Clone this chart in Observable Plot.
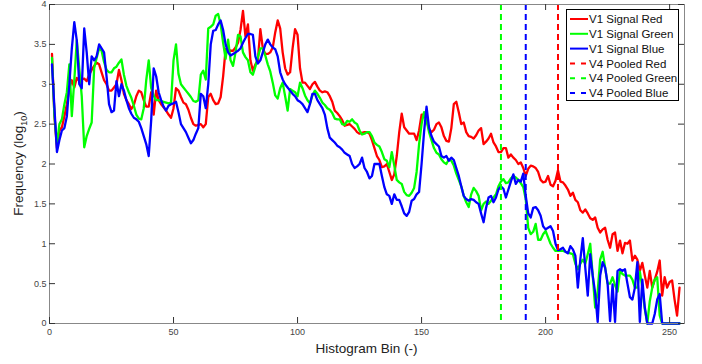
<!DOCTYPE html>
<html><head><meta charset="utf-8">
<script src="https://cdn.jsdelivr.net/npm/d3@7"></script>
<script src="https://cdn.jsdelivr.net/npm/@observablehq/plot@0.6"></script>
<style>
body{margin:0;background:#fff;}
#wrap{position:relative;width:702px;height:364px;font-family:"Liberation Sans",Arial,Helvetica,sans-serif;}
#legend{position:absolute;left:566px;top:9px;}
</style></head>
<body><div id="wrap"></div>
<script>
const bins = d3.range(1, 255);
const red = [3.38,2.6,2.2,2.42,2.46,2.6,2.75,2.95,3.05,2.96,
3.08,3.04,3.06,3.07,3.04,3.12,3.18,3.23,3.27,3.25,
3.15,3.05,3.0,2.92,2.92,2.96,3.0,3.18,3.05,2.88,
2.8,2.75,2.69,2.74,2.85,2.92,2.9,2.8,2.72,2.72,
2.9,2.62,2.92,2.8,2.75,2.71,2.67,2.62,2.58,2.7,
2.95,2.92,2.84,2.77,2.75,2.68,2.58,2.5,2.48,2.49,
2.5,2.46,2.5,2.84,2.88,2.8,2.75,2.76,2.84,3.1,
3.44,3.44,3.42,3.42,3.46,3.52,3.68,3.92,3.6,3.75,
3.3,3.17,3.25,3.3,3.69,3.45,3.38,3.38,3.4,3.46,
3.65,3.8,3.7,3.4,3.2,3.12,3.15,3.45,3.69,3.62,
3.2,3.02,3.02,2.98,2.94,3.0,3.03,2.97,2.92,2.9,
2.91,2.9,2.85,2.78,2.67,2.64,2.6,2.55,2.48,2.49,
2.5,2.47,2.44,2.4,2.38,2.39,2.4,2.4,2.38,2.3,
2.2,2.1,2.05,1.96,1.97,2.0,1.9,1.8,1.87,2.1,
2.4,2.63,2.46,2.42,2.38,2.38,2.38,2.3,2.42,2.62,
2.62,2.55,2.44,2.4,2.43,2.5,2.52,2.46,2.35,2.29,
2.28,2.45,2.75,2.78,2.65,2.5,2.52,2.4,2.35,2.34,
2.32,2.36,2.42,2.45,2.25,2.28,2.32,2.38,2.27,2.22,
2.15,2.15,2.2,2.2,2.08,2.12,2.08,2.05,2.0,2.02,
1.95,1.85,1.94,1.98,1.97,1.95,1.9,1.8,1.77,1.78,
1.85,1.74,1.72,1.79,1.92,1.78,1.77,1.73,1.68,1.6,
1.64,1.55,1.52,1.42,1.39,1.43,1.38,1.32,1.3,1.33,
1.2,1.14,1.18,1.2,1.05,0.95,1.12,1.14,0.91,1.04,
0.88,1.01,1.0,1.04,0.79,0.85,0.8,0.66,0.76,0.6,
0.45,0.66,0.45,0.55,0.65,0.79,0.35,0.58,0.45,0.52,
0.54,0.3,0.1,0.45];
const green = [3.33,2.6,2.25,2.5,2.56,2.75,2.9,3.25,2.6,3.05,
3.55,3.2,2.85,2.21,2.35,2.44,2.52,3.2,3.33,3.45,
3.42,3.28,3.18,3.15,3.15,3.2,3.22,3.27,3.31,3.12,
2.98,2.9,2.83,2.73,2.62,2.57,2.56,2.7,3.05,3.3,
2.95,2.86,2.8,2.8,2.79,2.78,2.77,2.76,2.77,3.3,
3.5,3.13,3.0,2.96,2.92,2.88,2.84,2.79,2.78,2.8,
3.12,3.17,3.06,3.7,3.72,3.75,3.86,3.88,3.75,3.52,
3.32,3.56,3.3,3.23,3.4,3.62,3.6,3.4,3.34,3.3,
3.15,3.12,3.22,3.34,3.45,3.45,3.36,3.25,3.16,3.02,
2.86,2.82,2.95,3.02,2.85,2.67,2.94,2.92,2.9,2.85,
3.02,2.95,2.86,2.8,2.76,2.86,2.92,2.88,2.83,2.77,
2.74,2.7,2.68,2.64,2.57,2.56,2.56,2.5,2.49,2.54,
2.53,2.56,2.52,2.5,2.42,2.37,2.38,2.4,2.4,2.35,
2.27,2.24,2.22,2.15,2.06,2.04,1.96,2.15,1.98,1.8,
1.77,1.75,1.65,1.61,1.6,1.64,1.7,1.9,2.25,2.5,
2.65,2.55,2.4,2.3,2.2,2.14,2.12,2.06,2.02,2.0,
2.06,2.04,1.98,1.88,1.8,1.72,1.6,1.52,1.46,1.62,
1.7,1.66,1.6,1.42,1.5,1.53,1.5,1.54,1.58,1.62,
1.72,1.78,1.81,1.76,1.77,1.82,1.85,1.83,1.8,1.76,
1.71,1.56,1.2,1.12,1.15,1.25,1.05,1.05,1.12,1.16,
1.08,1.0,0.95,0.91,0.91,0.91,0.91,0.9,0.89,0.88,
0.87,0.75,0.68,0.75,0.8,0.75,0.87,1.0,0.6,0.2,
0.4,0.8,0.9,0.7,0.5,0.5,0.58,0.48,0.4,0.66,
0.62,0.6,0.6,0.6,0.55,0.45,0.45,0.65,0.45,0.18,
0.0,0.28,0.45,0.55,0.58,0.1,0,0,0,0,
0,0,0,0];
const blue = [3.25,2.7,2.15,2.3,2.42,2.45,2.6,3.0,3.45,3.78,
3.55,3.0,2.95,3.7,3.4,3.0,3.35,3.3,3.35,3.5,
3.45,3.4,3.1,2.75,2.65,2.67,3.04,2.85,3.0,2.92,
2.8,2.7,2.63,2.58,2.56,2.53,2.45,2.35,2.25,2.1,
2.55,3.2,3.1,2.9,2.8,2.72,2.67,2.73,2.75,2.76,
2.78,2.65,2.5,2.45,2.4,2.33,2.26,2.3,2.38,2.45,
2.88,2.85,2.7,3.0,3.5,3.67,3.68,3.75,3.8,3.68,
3.5,3.4,3.36,3.38,3.4,3.42,3.45,3.52,3.58,3.63,
3.63,3.62,3.35,3.26,3.3,3.4,3.5,3.56,3.5,3.46,
3.44,3.35,3.15,3.06,3.0,2.96,2.92,2.88,2.85,2.8,
2.78,2.75,2.7,2.65,2.75,2.88,2.88,2.8,2.75,2.7,
2.62,2.45,2.33,2.3,2.27,2.23,2.21,2.18,2.14,2.12,
2.1,2.0,1.95,1.97,2.0,2.08,1.95,1.9,1.82,1.85,
2.0,2.0,2.0,1.85,1.71,1.62,1.6,1.5,1.62,1.55,
1.55,1.47,1.38,1.35,1.4,1.54,1.56,1.62,1.65,2.0,
2.4,2.72,2.46,2.35,2.28,2.25,2.22,2.1,2.08,2.1,
2.04,2.08,2.05,1.95,1.85,1.72,1.6,1.56,1.54,1.56,
1.55,1.52,1.5,1.38,1.27,1.45,1.58,1.6,1.52,1.58,
1.68,1.72,1.69,1.58,1.68,1.78,1.87,1.75,1.8,1.78,
1.88,1.6,1.38,1.33,1.45,1.46,1.42,1.35,1.22,1.18,
1.2,1.22,1.16,1.0,0.92,0.93,0.95,0.9,0.88,0.97,
0.93,0.85,0.45,0.8,1.07,0.7,0.35,0.87,0.6,0.38,
0.02,0.6,0.77,0.7,0.5,0.03,0.49,0.02,0.66,0.68,
0.66,0.68,0.5,0.33,0.3,0.45,0.77,0.02,0.55,0.2,
0,0,0,0.12,0.3,0.37,0,0,0,0,
0,0,0,0];

const signalNames = ["V1 Signal Red", "V1 Signal Green", "V1 Signal Blue"];
const pooledNames = ["V4 Pooled Red", "V4 Pooled Green", "V4 Pooled Blue"];
const pooledBins = [205, 182, 192];
const colors = ["#ff0000", "#00ff00", "#0000ff"];
const xTicks = [0, 50, 100, 150, 200, 250];
const yTicks = [0, 0.5, 1, 1.5, 2, 2.5, 3, 3.5, 4];

const W = 702, H = 364, mL = 49, mR = 18, mT = 4, mB = 41;
const innerW = W - mL - mR, innerH = H - mT - mB;

const rows = [];
[red, green, blue].forEach((vals, s) => vals.forEach((v, i) => rows.push({bin: bins[i], value: v, series: signalNames[s]})));
const pooled = pooledBins.map((b, i) => ({bin: b, series: pooledNames[i], color: colors[i]}));

const chart = Plot.plot({
  width: W, height: H,
  marginLeft: mL, marginRight: mR, marginTop: mT, marginBottom: mB,
  style: {fontFamily: '"Liberation Sans", Arial, Helvetica, sans-serif', fontSize: "9px", background: "#fff"},
  x: {domain: [0, 256]},
  y: {domain: [0, 4]},
  color: {domain: signalNames, range: colors},
  marks: [
    Plot.axisX(xTicks, {tickSize: 0, tickPadding: 5, fontSize: 9, fill: "#444", label: null, tickFormat: d => String(d)}),
    Plot.axisY(yTicks, {tickSize: 0, tickPadding: 3, fontSize: 9, fill: "#444", label: null, tickFormat: d => String(d)}),
    Plot.line(rows, {x: "bin", y: "value", z: "series", stroke: "series", strokeWidth: 2.3, strokeLinejoin: "round"}),
    Plot.ruleX(pooled, {x: "bin", stroke: "color", strokeWidth: 2, strokeDasharray: "6,4"}),
    Plot.frame({stroke: "#888", strokeWidth: 1}),
    Plot.tickX(xTicks, {x: d => d, insetTop: innerH - 6, stroke: "#333"}),
    Plot.tickX(xTicks, {x: d => d, insetBottom: innerH - 6, stroke: "#333"}),
    Plot.tickY(yTicks, {y: d => d, insetRight: innerW - 6, stroke: "#333"}),
    Plot.tickY(yTicks, {y: d => d, insetLeft: innerW - 6, stroke: "#333"})
  ]
});

const wrap = document.getElementById("wrap");
wrap.appendChild(chart);
const svg = d3.select(chart);

// axis labels
const yl = svg.append("text")
  .attr("transform", `translate(23,${mT + innerH / 2}) rotate(-90)`)
  .attr("text-anchor", "middle")
  .attr("font-size", 13.5)
  .attr("fill", "#222");
yl.append("tspan").text("Frequency (log");
yl.append("tspan").attr("font-size", 9).attr("dy", 4).text("10");
yl.append("tspan").attr("dy", -4).text(")");

svg.append("text")
  .attr("x", mL + innerW / 2).attr("y", 353)
  .attr("text-anchor", "middle")
  .attr("font-size", 13.5)
  .attr("fill", "#222")
  .text("Histogram Bin (-)");

// legend
const legendItems = [
  ...signalNames.map((n, i) => ({name: n, color: colors[i], dash: null})),
  ...pooledNames.map((n, i) => ({name: n, color: colors[i], dash: "5,6"}))
];
const lg = d3.select(wrap).append("svg")
  .attr("id", "legend")
  .attr("width", 114).attr("height", 93);
lg.append("rect").attr("x", 0.5).attr("y", 0.5).attr("width", 112).attr("height", 91)
  .attr("fill", "#fff").attr("stroke", "#000").attr("stroke-width", 1);
legendItems.forEach((it, i) => {
  const yy = 10 + i * 14.8;
  lg.append("line").attr("x1", 4).attr("x2", 22).attr("y1", yy).attr("y2", yy)
    .attr("stroke", it.color).attr("stroke-width", 2)
    .attr("stroke-dasharray", it.dash);
  lg.append("text").attr("x", 23).attr("y", yy).attr("dy", "0.36em")
    .attr("font-size", 11.5).attr("fill", "#111").text(it.name);
});
</script>
</body></html>
